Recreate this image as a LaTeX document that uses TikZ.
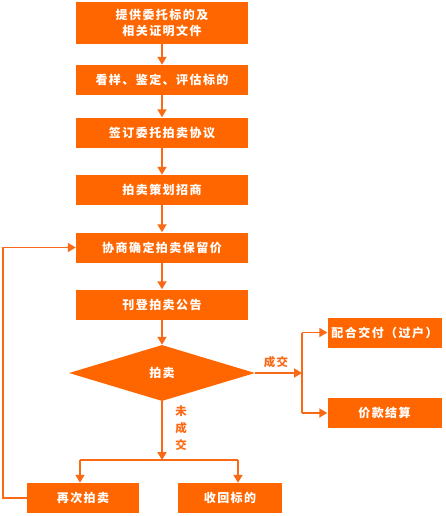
\documentclass[tikz,border=0pt]{standalone}
\usepackage{fontspec}
\setmainfont{Noto Sans CJK SC}
\newfontfamily\boxfont[LetterSpace=12]{Noto Sans CJK SC}
\usetikzlibrary{shapes.geometric,arrows.meta}
\definecolor{org}{RGB}{255,102,0}
\definecolor{orgline}{RGB}{250,105,20}
\begin{document}
\begin{tikzpicture}[x=1pt,y=-1pt,
  box/.style={fill=org, text=white, font=\boxfont\bfseries\fontsize{12}{16}\selectfont, minimum height=30pt, inner sep=0pt, align=center},
  mainbox/.style={box, minimum width=172pt},
  sidebox/.style={box, minimum width=112pt},
  line/.style={draw=orgline, line width=1.8pt},
  arr/.style={line, -{Triangle[length=8pt,width=9pt]}},
  lab/.style={text=orgline, font=\boxfont\bfseries\fontsize{11.5}{13}\selectfont, inner sep=0pt}]
\useasboundingbox (0,0) rectangle (445,516);
\node[mainbox, minimum height=42pt] (b1) at (162,23) {提供委托标的及\\相关证明文件};
\node[mainbox] (b2) at (162,80) {看样、鉴定、评估标的};
\node[mainbox] (b3) at (162,132.5) {签订委托拍卖协议};
\node[mainbox] (b4) at (162,190) {拍卖策划招商};
\node[mainbox] (b5) at (162,247.5) {协商确定拍卖保留价};
\node[mainbox] (b6) at (162,304.5) {刊登拍卖公告};
\node[diamond, fill=org, text=white, font=\boxfont\bfseries\fontsize{12}{13}\selectfont, minimum width=186pt, minimum height=56pt, inner sep=0pt] (d) at (162,373) {拍卖};
\node[sidebox, minimum width=114pt] (r1) at (384.5,332.5) {配合交付（过户）};
\node[sidebox, minimum width=114pt] (r2) at (384.5,413) {价款结算};
\node[sidebox] (b7) at (83,498) {再次拍卖};
\node[box, minimum width=104pt] (b8) at (230,498) {收回标的};

\draw[arr] (b1) -- (b2);
\draw[arr] (b2) -- (b3);
\draw[arr] (b3) -- (b4);
\draw[arr] (b4) -- (b5);
\draw[arr] (b5) -- (b6);
\draw[arr] (b6) -- (d);

\coordinate (jr) at (302,373);
\coordinate (jrt) at (302,332.5);
\coordinate (jrb) at (302,413);
\draw[arr] (d.east) -- (jr);
\draw[line] (jrt) -- (jrb);
\draw[arr] (jrt) -- (r1.west);
\draw[arr] (jrb) -- (r2.west);
\node[lab] (l1) at (276,362) {成交};

\coordinate (jd) at (162,460);
\coordinate (jl) at (80,460);
\coordinate (jrr) at (238,460);
\draw[arr] (d.south) -- (jd);
\draw[line] (jl) -- (jrr);
\draw[arr] (jl) -- (jl |- b7.north);
\draw[arr] (jrr) -- (jrr |- b8.north);
\node[lab, align=center, font=\boxfont\bfseries\fontsize{11.5}{17}\selectfont] (l2) at (181,428) {未\\成\\交};

\coordinate (fb1) at (3,498);
\coordinate (fb2) at (3,247.5);
\draw[arr] (b7.west) -- (fb1) -- (fb2) -- (b5.west);
\end{tikzpicture}
\end{document}
